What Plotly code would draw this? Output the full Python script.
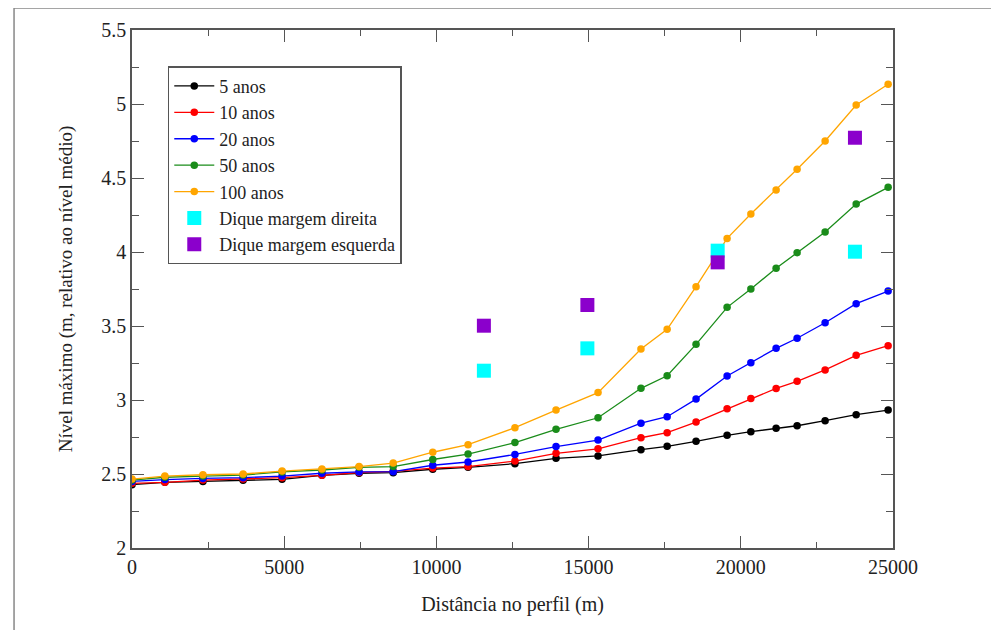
import plotly.graph_objects as go

distancia = [0, 1080, 2330, 3650, 4930, 6240, 7460, 8580, 9880, 11040, 12580, 13930,
             15310, 16720, 17580, 18530, 19550, 20330, 21160, 21850, 22770, 23790, 24840]

anos_5 = [2.428, 2.444, 2.450, 2.457, 2.464, 2.491, 2.505, 2.509, 2.532, 2.545, 2.570, 2.606,
          2.622, 2.664, 2.687, 2.721, 2.761, 2.786, 2.809, 2.826, 2.860, 2.901, 2.932]
anos_10 = [2.437, 2.444, 2.459, 2.466, 2.475, 2.491, 2.510, 2.518, 2.540, 2.550, 2.587, 2.640,
           2.670, 2.745, 2.779, 2.851, 2.941, 3.010, 3.078, 3.126, 3.203, 3.302, 3.367]
anos_20 = [2.450, 2.462, 2.470, 2.475, 2.486, 2.505, 2.514, 2.516, 2.559, 2.581, 2.632, 2.685,
           2.729, 2.843, 2.887, 3.006, 3.162, 3.252, 3.349, 3.417, 3.522, 3.651, 3.736]
anos_50 = [2.459, 2.478, 2.486, 2.493, 2.514, 2.527, 2.545, 2.550, 2.598, 2.635, 2.712, 2.802,
           2.880, 3.079, 3.164, 3.376, 3.626, 3.750, 3.890, 3.995, 4.135, 4.324, 4.437]
anos_100 = [2.466, 2.486, 2.495, 2.500, 2.520, 2.534, 2.550, 2.574, 2.647, 2.698, 2.813, 2.932,
            3.050, 3.344, 3.478, 3.766, 4.092, 4.257, 4.419, 4.559, 4.750, 4.993, 5.133]

dique_x = [11560, 14960, 19240, 23750]
dique_direita = [3.198, 3.349, 4.009, 4.002]
dique_esquerda = [3.502, 3.642, 3.930, 4.772]

series = [
    ("5 anos", anos_5, "#000000"),
    ("10 anos", anos_10, "#ff0000"),
    ("20 anos", anos_20, "#0000ff"),
    ("50 anos", anos_50, "#1a8c1a"),
    ("100 anos", anos_100, "#ffa500"),
]

FONT = "Liberation Serif, Times New Roman, serif"

fig = go.Figure()
for name, vals, col in series:
    fig.add_trace(go.Scatter(
        x=distancia, y=vals, name=name, mode="lines+markers",
        line=dict(color=col, width=1.3),
        marker=dict(color=col, size=7.5, symbol="circle"),
    ))

fig.add_trace(go.Scatter(
    x=dique_x, y=dique_direita, name="Dique margem direita", mode="markers",
    marker=dict(color="#00ffff", size=14, symbol="square"),
))
fig.add_trace(go.Scatter(
    x=dique_x, y=dique_esquerda, name="Dique margem esquerda", mode="markers",
    marker=dict(color="#8b00cc", size=14, symbol="square"),
))

axis_common = dict(
    showgrid=False, zeroline=False, showline=True, linecolor="#555555", linewidth=1.5,
    mirror="allticks", ticks="inside", ticklen=12, tickwidth=1.3, tickcolor="#555555",
    tickfont=dict(family=FONT, size=20, color="#222222"),
)

fig.update_xaxes(
    range=[0, 25000], tick0=0, dtick=5000, tickformat="d",
    minor=dict(ticks="inside", ticklen=6, tickwidth=1.3, tickcolor="#555555", dtick=2500),
    title=dict(text="Distância no perfil (m)", font=dict(family=FONT, size=20, color="#222222"),
               standoff=20),
    **axis_common,
)
fig.update_yaxes(
    range=[2, 5.5], tick0=2, dtick=0.5,
    minor=dict(ticks="inside", ticklen=7, tickwidth=1.3, tickcolor="#555555", dtick=0.25),
    title=dict(text="Nível máximo (m, relativo ao nível médio)",
               font=dict(family=FONT, size=19, color="#222222"), standoff=24),
    **axis_common,
)

fig.add_shape(type="rect", xref="paper", yref="paper",
              x0=-0.155, x1=1.2, y0=-0.2, y1=1.0425,
              line=dict(color="#888888", width=1.5), layer="below")

fig.update_layout(
    width=991, height=622, autosize=False,
    margin=dict(l=124, r=106, t=22, b=82),
    paper_bgcolor="white", plot_bgcolor="white",
    font=dict(family=FONT, color="#222222"),
    legend=dict(x=0.047, y=0.93, xanchor="left", yanchor="top",
                bgcolor="white", bordercolor="#555555", borderwidth=1.5,
                font=dict(family=FONT, size=18, color="#222222"),
                itemwidth=40, tracegroupgap=0),
    showlegend=True,
)

fig.write_html("out.html")
